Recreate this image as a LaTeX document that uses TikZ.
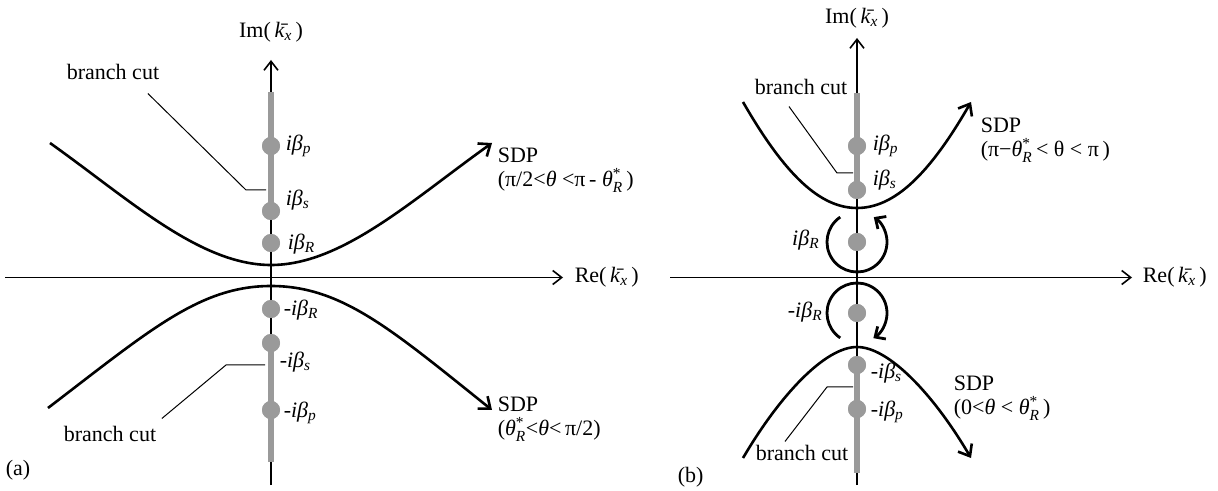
\documentclass[tikz,border=0pt]{standalone}
\usepackage{amsmath}
\usepackage{fontspec}
\setmainfont{Liberation Serif}
\usetikzlibrary{arrows.meta, positioning}
\definecolor{cutgrey}{HTML}{9A9A9A}
\newcommand{\lsub}[1]{\textsubscript{\textit{#1}}}
\newcommand{\ibeta}[1]{\textit{iβ}\lsub{#1}}
\newcommand{\thetaR}{\textit{θ}$^{\textrm{*}}_{\textit{R}}$}
\newcommand{\kbar}{\={\textit{k}}\lsub{x}}
\tikzset{
  every picture/.style={line width=1.6pt},
  lbl/.style={font=\fontsize{22}{23}\selectfont, inner sep=0pt},
  sdp/.style={lbl, align=left, font=\fontsize{22}{24}\selectfont},
  kaxis/.style={-{Straight Barb[length=9pt, width=14pt]}, line width=1.6pt},
  brcut/.style={draw=cutgrey, line width=5.5pt},
  pole/.style={circle, fill=cutgrey, inner sep=0pt, minimum size=18pt},
  leader/.style={line width=1pt},
  sdpcurve/.style={line width=2.6pt},
  sdparrow/.style={sdpcurve, -{Straight Barb[length=10pt, width=16pt]}},
  encircle/.style={line width=2.8pt, -{Straight Barb[length=8pt, width=15pt]}},
}
\begin{document}
\begin{tikzpicture}[x=1pt, y=1pt]
  \useasboundingbox (0,0) rectangle (1218,490);
  % ---------- (a) ----------
  \coordinate (aBot) at (271,5);
  \coordinate (aTop) at (271,430);
  \coordinate (aLeft) at (5,212.5);
  \coordinate (aRight) at (563,212.5);
  \coordinate (aCutTop) at (271,398);
  \coordinate (aCutBot) at (271,28);
  \draw[kaxis] (aBot) -- (aTop);
  \draw[kaxis] (aLeft) -- (aRight);
  \node[lbl] (imA) at (271,458) {Im(\,\kbar\,)};
  \node[lbl, anchor=west] (reA) at (574,212.5) {Re(\,\kbar\,)};
  \node[pole] (apA) at (271,344) {};
  \node[pole] (asA) at (271,279) {};
  \node[pole] (aRA) at (271,247) {};
  \node[pole] (amRA) at (271,181) {};
  \node[pole] (amsA) at (271,147) {};
  \node[pole] (ampA) at (271,80) {};
  \draw[brcut] (aCutTop) -- (asA.center);
  \draw[brcut] (amsA.center) -- (aCutBot);
  \foreach \p in {apA, asA, aRA, amRA, amsA, ampA} \node[pole] at (\p) {};
  \node[lbl, anchor=west] (lpA) at (285,344) {\ibeta{p}};
  \node[lbl, anchor=west] (lsA) at (285,290) {\ibeta{s}};
  \node[lbl, anchor=west] (lRA) at (287,246) {\ibeta{R}};
  \node[lbl, anchor=west] (lmRA) at (283,180) {-\ibeta{R}};
  \node[lbl, anchor=west] (lmsA) at (279,128) {-\ibeta{s}};
  \node[lbl, anchor=west] (lmpA) at (283,77) {-\ibeta{p}};
  % branch cut leaders
  \node[lbl] (bcA) at (113,418) {branch cut};
  \draw[leader] ([xshift=-12pt, yshift=-13pt]bcA.south east) -- (246,300) -- (266,300);
  \node[lbl] (bcB) at (110,56) {branch cut};
  \draw[leader] ([xshift=5pt, yshift=7pt]bcB.north east) -- (226,125) -- (265,125);
  % steepest descent paths
  \draw[sdparrow] (50,347) .. controls (130,290) and (200,225) .. (271,225)
    .. controls (342,225) and (412,290) .. (492,347);
  \draw[sdparrow] (48,82) .. controls (150,160) and (200,204) .. (271,204)
    .. controls (342,204) and (392,160) .. (492,80);
  \node[sdp, anchor=north west] (sdpA) at (497,343) {SDP\\(π/2<\textit{θ} <π\,- \thetaR\,)};
  \node[sdp, anchor=north west] (sdpB) at (497,94) {SDP\\(\thetaR<\textit{θ}<\,π/2)};
  \node[lbl, anchor=west] (capA) at (5,20) {(a)};
  % ---------- (b) ----------
  \coordinate (bBot) at (857,5);
  \coordinate (bTop) at (857,452);
  \coordinate (bLeft) at (670,212.5);
  \coordinate (bRight) at (1132,212.5);
  \coordinate (bCutTop) at (857,397);
  \coordinate (bCutBot) at (857,17);
  \draw[kaxis] (bBot) -- (bTop);
  \draw[kaxis] (bLeft) -- (bRight);
  \node[lbl] (imB) at (857,472) {Im(\,\kbar\,)};
  \node[lbl, anchor=west] (reB) at (1142,212.5) {Re(\,\kbar\,)};
  \node[pole] (bpB) at (857,344) {};
  \node[pole] (bsB) at (857,300) {};
  \node[pole] (bRB) at (857,248) {};
  \node[pole] (bmRB) at (857,177) {};
  \node[pole] (bmsB) at (857,125) {};
  \node[pole] (bmpB) at (857,81) {};
  \draw[brcut] (bCutTop) -- (bsB.center);
  \draw[brcut] (bmsB.center) -- (bCutBot);
  \foreach \p in {bpB, bsB, bRB, bmRB, bmsB, bmpB} \node[pole] at (\p) {};
  \node[lbl, anchor=west] (lpB) at (872,344) {\ibeta{p}};
  \node[lbl, anchor=west] (lsB) at (872,310) {\ibeta{s}};
  \node[lbl, anchor=east] (lRB) at (820,250) {\ibeta{R}};
  \node[lbl, anchor=east] (lmRB) at (823,178) {-\ibeta{R}};
  \node[lbl, anchor=west] (lmsB) at (870,117) {-\ibeta{s}};
  \node[lbl, anchor=west] (lmpB) at (870,78) {-\ibeta{p}};
  % circling the Rayleigh poles
  \draw[encircle] ([shift={(124:30)}]bRB.center) arc[start angle=124, end angle=416, radius=30];
  \draw[encircle] ([shift={(236:30)}]bmRB.center) arc[start angle=236, end angle=-57, radius=30];
  % branch cut leaders
  \node[lbl] (bcC) at (801,403) {branch cut};
  \draw[leader] ([xshift=-12pt, yshift=-11pt]bcC.south) -- (837,317) -- (853,317);
  \node[lbl] (bcD) at (802,37) {branch cut};
  \draw[leader] ([xshift=-17pt, yshift=3pt]bcD.north) -- (827,103) -- (853,103);
  % steepest descent paths
  \draw[sdparrow] (743,388) .. controls (785,315) and (820,282) .. (857,282)
    .. controls (894,282) and (929,315) .. (971,388);
  \draw[sdparrow] (743,32) .. controls (780,95) and (825,143) .. (857,143)
    .. controls (889,143) and (934,95) .. (971,32);
  \node[sdp, anchor=north west] (sdpC) at (980,373) {SDP\\(π−\thetaR\,< θ < π\,)};
  \node[sdp, anchor=north west] (sdpD) at (953,115) {SDP\\(0<\textit{θ} < \thetaR\,)};
  \node[lbl, anchor=west] (capB) at (677,13) {(b)};
\end{tikzpicture}
\end{document}
